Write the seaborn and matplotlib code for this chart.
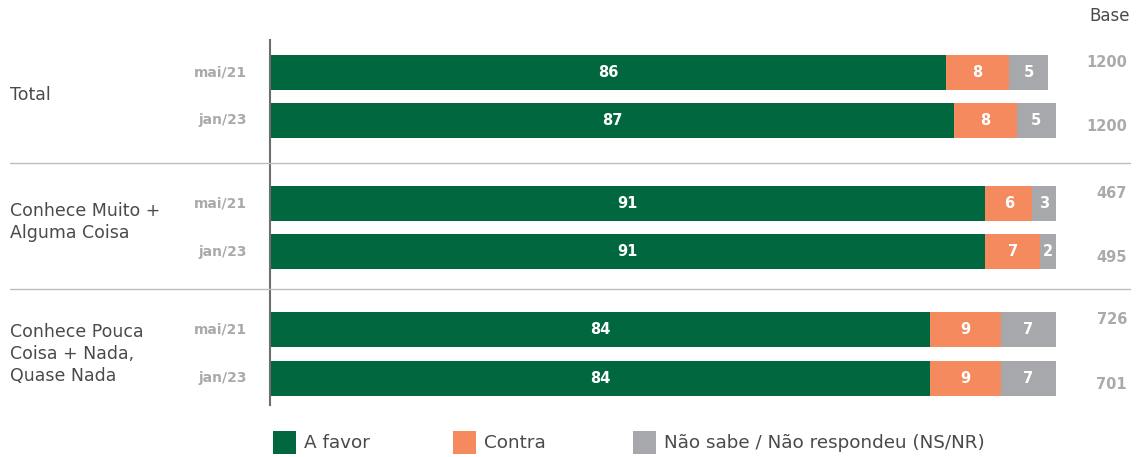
import matplotlib
matplotlib.use("Agg")
import matplotlib.pyplot as plt
import matplotlib.transforms as mtransforms
from matplotlib.lines import Line2D
from matplotlib.patches import Rectangle
import numpy as np
import pandas as pd
import seaborn as sns

# ---- data ----
groups = ["Total", "Conhece Muito +\nAlguma Coisa", "Conhece Pouca\nCoisa + Nada,\nQuase Nada"]
periods = ["mai/21", "jan/23", "mai/21", "jan/23", "mai/21", "jan/23"]
a_favor = [86, 87, 91, 91, 84, 84]
contra = [8, 8, 6, 7, 9, 9]
ns_nr = [5, 5, 3, 2, 7, 7]
bases = [1200, 1200, 467, 495, 726, 701]
series_names = ["A favor", "Contra", "Não sabe / Não respondeu (NS/NR)"]

# ---- style ----
GREEN = "#00673F"
ORANGE = "#F58A5F"
GREY = "#A7A8AB"
DARK = "#4A4A4A"
LABEL_GREY = "#A9AAAD"

sns.set_theme(style="white")
plt.rcParams["font.family"] = ["DejaVu Sans"]

W, H = 1138, 457
fig = plt.figure(figsize=(W / 100, H / 100), dpi=100)

# row slots (bar centres), grouped in pairs
pos = np.array([0.0, 1.0, 2.73, 3.73, 5.35, 6.37])
unit_px = 48.0
top_px, bot_px = 40, 405
y0_px = 72.5
ax = fig.add_axes([270 / W, 1 - bot_px / H, (1056 - 270) / W, (bot_px - top_px) / H])

df = pd.DataFrame({
    "pos": pos,
    "favor": a_favor,
    "contra": contra,
    "ns": ns_nr,
})
df["c1"] = df["favor"]
df["c2"] = df["favor"] + df["contra"]
df["c3"] = df["c2"] + df["ns"]

# stacked bars: draw cumulative totals back to front
for col, color in [("c3", GREY), ("c2", ORANGE), ("c1", GREEN)]:
    sns.barplot(data=df, x=col, y="pos", orient="y", native_scale=True,
                color=color, width=0.73, errorbar=None, saturation=1,
                linewidth=0, ax=ax)

ax.set_xlim(0, 100)
ax.set_ylim((bot_px - y0_px) / unit_px, (top_px - y0_px) / unit_px)
ax.set_xlabel("")
ax.set_ylabel("")
ax.set_xticks([])
ax.set_yticks([])
for s in ["top", "right", "bottom"]:
    ax.spines[s].set_visible(False)
ax.spines["left"].set_color("#6E6E6E")
ax.spines["left"].set_linewidth(1.5)
ax.patch.set_alpha(0)

# values inside segments
for i, p in enumerate(pos):
    starts = [0, a_favor[i], a_favor[i] + contra[i]]
    vals = [a_favor[i], contra[i], ns_nr[i]]
    for s, v in zip(starts, vals):
        ax.text(s + v / 2, p, f"{v}", ha="center", va="center",
                color="white", fontsize=10.5, fontweight="bold")

# period labels and base sizes
blend = mtransforms.blended_transform_factory(fig.transFigure, ax.transData)
for i, p in enumerate(pos):
    ax.text(247 / W, p, periods[i], transform=blend, ha="right", va="center",
            color=LABEL_GREY, fontsize=10, fontweight="bold")
    off = -0.2 if i % 2 == 0 else 0.13
    ax.text(1127 / W, p + off, f"{bases[i]}", transform=blend, ha="right",
            va="center", color=LABEL_GREY, fontsize=10.5, fontweight="bold")

fig.text(1130 / W, 1 - 16 / H, "Base", ha="right", va="center",
         color=DARK, fontsize=12)

# group labels
group_y = [95, 222, 354]
for g, yp in zip(groups, group_y):
    fig.text(10 / W, 1 - yp / H, g, ha="left", va="center", color=DARK,
             fontsize=12.5, linespacing=1.32)

# separators between groups
for yp in [163, 289]:
    fig.add_artist(Line2D([10 / W, 1130 / W], [1 - yp / H, 1 - yp / H],
                          transform=fig.transFigure, color="#BDBDBD", lw=1))

# legend
leg_x = [273, 453, 633]
for x, name, color in zip(leg_x, series_names, [GREEN, ORANGE, GREY]):
    fig.add_artist(Rectangle((x / W, 1 - 454 / H), 23 / W, 23 / H,
                             transform=fig.transFigure, color=color, lw=0))
    fig.text((x + 31) / W, 1 - 442.5 / H, name, ha="left", va="center",
             color=DARK, fontsize=13.2)

fig.savefig("out.png", dpi=100)
